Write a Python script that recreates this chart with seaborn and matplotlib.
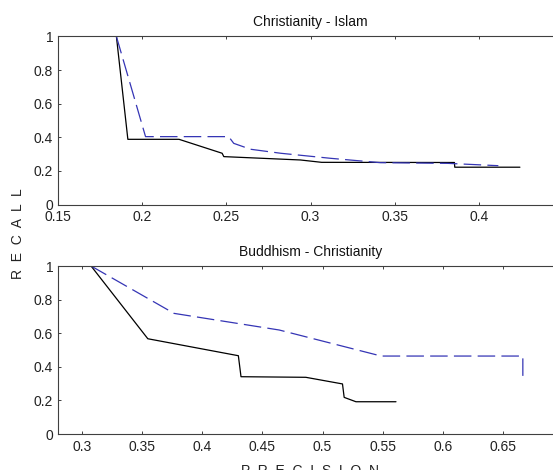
import matplotlib
matplotlib.use("Agg")
import matplotlib.pyplot as plt
import seaborn as sns

# Christianity - Islam
ci_solid_precision = [0.1847, 0.1915, 0.2219, 0.2475, 0.2485, 0.294, 0.3066, 0.3855, 0.3857, 0.4244]
ci_solid_recall = [1.0, 0.388, 0.388, 0.305, 0.285, 0.265, 0.251, 0.25, 0.222, 0.222]
ci_dash_precision = [0.1847, 0.202, 0.2514, 0.2544, 0.2643, 0.2823, 0.3119, 0.3415, 0.3813, 0.4116]
ci_dash_recall = [1.0, 0.404, 0.404, 0.364, 0.329, 0.305, 0.275, 0.249, 0.245, 0.231]

# Buddhism - Christianity
bc_solid_precision = [0.3075, 0.3547, 0.43, 0.4322, 0.4861, 0.5166, 0.518, 0.5278, 0.5611]
bc_solid_recall = [1.0, 0.567, 0.466, 0.341, 0.3375, 0.298, 0.218, 0.192, 0.192]
bc_dash_precision = [0.3075, 0.3765, 0.464, 0.5488, 0.6666, 0.6666]
bc_dash_recall = [1.0, 0.718, 0.619, 0.464, 0.464, 0.321]

top_xticks = [0.15, 0.2, 0.25, 0.3, 0.35, 0.4]
bot_xticks = [0.3, 0.35, 0.4, 0.45, 0.5, 0.55, 0.6, 0.65]
yticks = [0, 0.2, 0.4, 0.6, 0.8, 1]

sns.set_style("ticks")
plt.rcParams["font.family"] = ["Liberation Sans", "DejaVu Sans"]
plt.rcParams.update({
    "axes.edgecolor": "#404040",
    "axes.linewidth": 0.8,
    "xtick.direction": "in",
    "ytick.direction": "in",
    "xtick.top": True,
    "ytick.right": True,
    "xtick.color": "#404040",
    "ytick.color": "#404040",
    "xtick.labelcolor": "#222222",
    "ytick.labelcolor": "#222222",
    "xtick.major.size": 2.5,
    "ytick.major.size": 2.5,
    "xtick.major.width": 0.7,
    "ytick.major.width": 0.7,
    "xtick.major.pad": 4,
    "ytick.major.pad": 3.5,
    "font.size": 10,
})

W, H = 553, 470
fig = plt.figure(figsize=(W / 100, H / 100), dpi=100)
ax_top = fig.add_axes([58 / W, 1 - 204.5 / H, 505 / W, 168 / H])
ax_bot = fig.add_axes([58 / W, 1 - 434 / H, 505 / W, 168 / H])

dash_color = "#3535b5"

sns.lineplot(x=ci_solid_precision, y=ci_solid_recall, sort=False, estimator=None,
             color="black", linewidth=0.9, ax=ax_top)
sns.lineplot(x=ci_dash_precision, y=ci_dash_recall, sort=False, estimator=None,
             color=dash_color, linewidth=0.9, linestyle=(0, (14, 5)), ax=ax_top)

sns.lineplot(x=bc_solid_precision, y=bc_solid_recall, sort=False, estimator=None,
             color="black", linewidth=0.9, ax=ax_bot)
sns.lineplot(x=bc_dash_precision, y=bc_dash_recall, sort=False, estimator=None,
             color=dash_color, linewidth=0.9, linestyle=(0, (14, 5)), ax=ax_bot)

ax_top.set_xlim(0.15, 0.45)
ax_top.set_xticks(top_xticks)
ax_top.set_xticklabels([f"{t:g}" for t in top_xticks])
ax_bot.set_xlim(0.28, 0.70)
ax_bot.set_xticks(bot_xticks)
ax_bot.set_xticklabels([f"{t:g}" for t in bot_xticks])

for ax in (ax_top, ax_bot):
    ax.set_ylim(0, 1)
    ax.set_yticks(yticks)
    ax.set_yticklabels([f"{t:g}" for t in yticks])
    for s in ax.spines.values():
        s.set_visible(True)

ax_top.set_title("Christianity - Islam", fontsize=10, pad=7.5, color="#111111")
ax_bot.set_title("Buddhism - Christianity", fontsize=10, pad=7, color="#111111")

fig.text(18 / W, 1 - 234 / H, "R  E  C  A  L  L", rotation=90,
         ha="center", va="center", fontsize=10, color="#222222")
fig.text(310 / W, 1 - 464 / H, "P  R  E  C  I  S  I  O  N",
         ha="center", va="top", fontsize=10, color="#222222")

fig.savefig("out.png", dpi=100)
plt.close(fig)
